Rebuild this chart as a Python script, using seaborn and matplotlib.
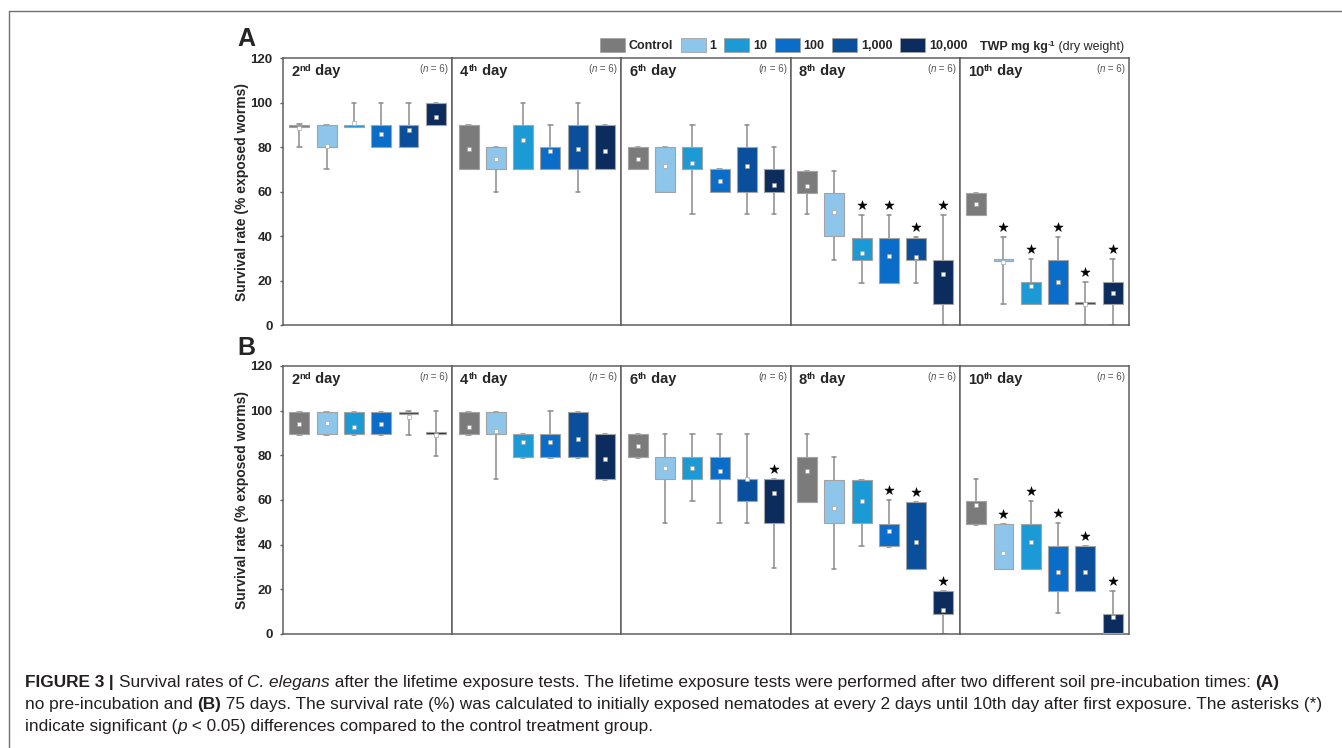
import matplotlib
matplotlib.use("Agg")
import matplotlib.pyplot as plt
from matplotlib.patches import Patch
from matplotlib.lines import Line2D
import seaborn as sns
import numpy as np

# ---------------- data ----------------
treatments = ["Control", "1", "10", "100", "1,000", "10,000"]
day_numbers = ["2", "4", "6", "8", "10"]
day_suffixes = ["nd", "th", "th", "th", "th"]
yticks = [0, 20, 40, 60, 80, 100, 120]
n_label = "6"

# Panel A (no pre-incubation): rows = days 2,4,6,8,10 ; cols = treatments
A_p5 = [[80, 70, 89, 80, 80, 90],
        [70, 60, 70, 70, 60, 70],
        [70, 60, 50, 60, 50, 50],
        [50, 29, 19, 19, 19, 0],
        [49.5, 9.5, 9.5, 9.5, 0, 0]]
A_q25 = [[89, 80, 89, 80, 80, 90],
         [70, 70, 70, 70, 70, 70],
         [70, 60, 70, 60, 60, 60],
         [59.5, 40, 29, 19, 29, 9.5],
         [49.5, 28.6, 9.5, 9.5, 9.4, 9.5]]
A_q75 = [[90, 90, 90, 90, 90, 100],
         [90, 80, 90, 80, 90, 90],
         [80, 80, 80, 70, 80, 70],
         [69, 59.5, 39, 39, 39, 29],
         [59.5, 29.6, 19.5, 29, 10.3, 19.5]]
A_p95 = [[90.5, 90, 100, 100, 100, 100],
         [90, 80, 100, 90, 100, 90],
         [80, 80, 90, 70, 90, 80],
         [69, 69, 49.5, 49.5, 39.5, 49.5],
         [59.5, 39.5, 29.5, 39.5, 19.5, 29.5]]
A_mean = [[88.5, 80.5, 91, 86, 87.7, 93.3],
          [79.2, 74.8, 83.2, 78, 79.2, 78],
          [74.8, 71.4, 72.9, 64.6, 71.4, 63],
          [62.3, 50.8, 32.5, 30.9, 30.4, 22.8],
          [54.4, 28.2, 17.5, 19.5, 9.6, 14.4]]
A_sig = [[0, 0, 0, 0, 0, 0],
         [0, 0, 0, 0, 0, 0],
         [0, 0, 0, 0, 0, 0],
         [0, 0, 1, 1, 1, 1],
         [0, 1, 1, 1, 1, 1]]

# Panel B (75 days pre-incubation)
B_p5 = [[89, 89, 89, 89, 89, 79.5],
        [89, 69.5, 79, 79, 79, 69],
        [79, 49.5, 59.5, 49.5, 49.5, 29.5],
        [59, 29, 39.5, 39, 29, 0],
        [49, 29, 29, 9.5, 19.5, 0]]
B_q25 = [[89.4, 89.4, 89.4, 89.4, 98.5, 89.5],
         [89.4, 89.4, 79.4, 79.4, 79.4, 69.4],
         [79.4, 69.6, 69.6, 69.6, 59.7, 49.6],
         [59.3, 49.6, 49.6, 39.4, 29.1, 9],
         [49.3, 29.1, 29.1, 19.4, 19.4, 0.5]]
B_q75 = [[99.4, 99.4, 99.4, 99.4, 99.3, 90.4],
         [99.4, 99.4, 89.4, 89.4, 99.4, 89.4],
         [89.4, 79.4, 79.4, 79.4, 69.4, 69.4],
         [79.3, 69.1, 69.1, 49.3, 59.3, 19.3],
         [59.4, 49.4, 49.4, 39.4, 39.4, 9]]
B_p95 = [[99.4, 99.4, 99.4, 99.4, 100, 100],
         [99.4, 99.4, 89.4, 100, 99.4, 89.4],
         [89.4, 89.4, 89.4, 89.4, 89.4, 69.4],
         [89.4, 79.3, 69.1, 59.9, 59.3, 19.3],
         [69.4, 49.4, 59.6, 49.9, 39.4, 19.3]]
B_mean = [[94.2, 94.5, 92.8, 94.2, 97.3, 89],
          [92.5, 91, 85.8, 85.8, 87.5, 78.2],
          [84.3, 74.5, 74.5, 72.8, 69.2, 63],
          [72.8, 56.3, 59.4, 46, 41, 10.6],
          [57.6, 36.1, 41, 27.6, 27.6, 7.5]]
B_sig = [[0, 0, 0, 0, 0, 0],
         [0, 0, 0, 0, 0, 0],
         [0, 0, 0, 0, 0, 1],
         [0, 0, 0, 1, 1, 1],
         [0, 1, 1, 1, 1, 1]]

# ---------------- style ----------------
sns.set_style("white")
plt.rcParams["font.family"] = ["Liberation Sans", "DejaVu Sans"]

colors = ["#7b7b7b", "#8ec5ea", "#1b9ad6", "#0a6dc9", "#0a4f9c", "#0b2c5c"]
spine_color = "#5f5f5f"
whisk_color = "#8c8c8c"

W, H = 1342, 748
fig = plt.figure(figsize=(W / 100, H / 100), dpi=100)
renderer = fig.canvas.get_renderer()


def run_width(s, props):
    t1 = fig.text(0, 0, "|" + s + "|", **props)
    t2 = fig.text(0, 0, "||", **props)
    w = t1.get_window_extent(renderer).width - t2.get_window_extent(renderer).width
    t1.remove()
    t2.remove()
    return w


def draw_runs(x, y, runs, align="left"):
    widths = [run_width(s, p) for s, p, dy in runs]
    total = sum(widths)
    if align == "right":
        x -= total
    for (s, p, dy), w in zip(runs, widths):
        fig.text(x / W, 1 - (y - dy) / H, s, ha="left", va="baseline", **p)
        x += w
    return total


panel_left = 283
panel_w = 169.2
rows = [(58, 325, A_p5, A_q25, A_q75, A_p95, A_mean, A_sig, "A", 46),
        (366, 634, B_p5, B_q25, B_q75, B_p95, B_mean, B_sig, "B", 355)]

positions = np.arange(len(treatments))

for top, bot, P5, Q25, Q75, P95, MEAN, SIG, letter, letter_base in rows:
    for d in range(len(day_numbers)):
        ax = fig.add_axes([(panel_left + d * panel_w) / W, 1 - bot / H,
                           panel_w / W, (bot - top) / H])
        stats = []
        for i in range(len(treatments)):
            stats.append(dict(med=MEAN[d][i], q1=Q25[d][i], q3=Q75[d][i],
                              whislo=P5[d][i], whishi=P95[d][i], mean=MEAN[d][i]))
        bp = ax.bxp(stats, positions=positions, widths=0.73, patch_artist=True,
                    showfliers=False, showmeans=False, manage_ticks=False,
                    capwidths=0.16,
                    boxprops=dict(edgecolor="#a3a3a3", linewidth=0.8),
                    whiskerprops=dict(color=whisk_color, linewidth=1.1),
                    capprops=dict(color=whisk_color, linewidth=1.1),
                    medianprops=dict(linewidth=0))
        for patch, c in zip(bp["boxes"], colors):
            patch.set_facecolor(c)
            patch.set_zorder(3)
        # means
        sns.scatterplot(x=positions, y=MEAN[d], marker="s", s=10, color="white",
                        edgecolor="#9a9a9a", linewidth=0.4, zorder=5, ax=ax, legend=False)
        # significance stars
        sx = [positions[i] for i in range(len(treatments)) if SIG[d][i]]
        sy = [P95[d][i] + 4.5 for i in range(len(treatments)) if SIG[d][i]]
        if sx:
            sns.scatterplot(x=sx, y=sy, marker="*", s=50, color="black",
                            edgecolor="black", linewidth=0.3, zorder=5, ax=ax, legend=False)
        ax.set_xlim(-0.6, len(treatments) - 0.4)
        ax.set_ylim(0, 120)
        ax.set_xticks([])
        ax.set_xlabel("")
        for sp in ax.spines.values():
            sp.set_visible(True)
            sp.set_color(spine_color)
            sp.set_linewidth(1.1)
        if d == 0:
            ax.set_yticks(yticks)
            ax.set_yticklabels([str(t) for t in yticks], fontweight="bold", fontsize=9.5)
            ax.tick_params(axis="y", direction="out", length=2.5, width=1,
                           color=spine_color, pad=5, left=True)
            ax.set_ylabel("Survival rate (% exposed worms)", fontweight="bold", fontsize=10)
            ax.yaxis.set_label_coords(-0.2, 0.5)
        else:
            ax.set_yticks([])
            ax.set_ylabel("")

        # day title with superscript
        x0 = panel_left + d * panel_w + 8
        draw_runs(x0, top + 17.5, [
            (day_numbers[d], dict(fontsize=10.5, fontweight="bold"), 0),
            (day_suffixes[d], dict(fontsize=6.8, fontweight="bold"), 4.5),
            (" day", dict(fontsize=10.5, fontweight="bold"), 0)])
        # (n = 6)
        draw_runs(panel_left + (d + 1) * panel_w - 4, top + 14.5, [
            ("(", dict(fontsize=7, color="#555555"), 0),
            ("n", dict(fontsize=7, color="#555555", style="italic"), 0),
            (" = " + n_label + ")", dict(fontsize=7, color="#555555"), 0)], align="right")

    fig.text(237 / W, 1 - letter_base / H, letter, fontsize=18, fontweight="bold",
             ha="left", va="baseline")

# ---------------- legend ----------------
handles = [Patch(facecolor=c, edgecolor="#a3a3a3", linewidth=0.6) for c in colors]
leg = fig.legend(handles, treatments, loc="center left",
                 bbox_to_anchor=(600 / W, 1 - 45 / H), ncol=len(treatments),
                 frameon=False, prop=dict(weight="bold", size=9),
                 handlelength=2.0, handleheight=1.28, handletextpad=0.3,
                 columnspacing=0.62, borderpad=0, borderaxespad=0)
lb = leg.get_window_extent(renderer)
draw_runs(lb.x1 + 12, 50, [
    ("TWP mg kg", dict(fontsize=9, fontweight="bold"), 0),
    ("-1", dict(fontsize=6, fontweight="bold"), 4),
    (" (dry weight)", dict(fontsize=9), 0)])

# ---------------- caption ----------------
cap_color = "#231f20"
line1 = [("FIGURE 3", dict(fontweight="bold")), (" | ", dict(fontweight="bold")),
         ("Survival rates of ", {}), ("C. elegans", dict(style="italic")),
         (" after the lifetime exposure tests. The lifetime exposure tests were performed "
          "after two different soil pre-incubation times: ", {}),
         ("(A)", dict(fontweight="bold"))]
line2 = [("no pre-incubation and ", {}), ("(B)", dict(fontweight="bold")),
         (" 75 days. The survival rate (%) was calculated to initially exposed nematodes at "
          "every 2 days until 10th day after first exposure. The asterisks (*)", {})]
line3 = [("indicate significant (", {}), ("p", dict(style="italic")),
         (" < 0.05) differences compared to the control treatment group.", {})]

ref_size = 10
w2 = sum(run_width(s, dict(fontsize=ref_size, **p)) for s, p in line2)
cap_size = ref_size * 1297 / w2
for line, base in [(line1, 687), (line2, 709), (line3, 731)]:
    draw_runs(25, base, [(s, dict(fontsize=cap_size, color=cap_color, **p), 0) for s, p in line])

# frame lines (top and left)
fig.add_artist(Line2D([9 / W, 1], [1 - 10.5 / H, 1 - 10.5 / H], color="#707070", lw=1.0))
fig.add_artist(Line2D([9 / W, 9 / W], [0, 1 - 10.5 / H], color="#707070", lw=1.0))

fig.savefig("out.png", dpi=100)
